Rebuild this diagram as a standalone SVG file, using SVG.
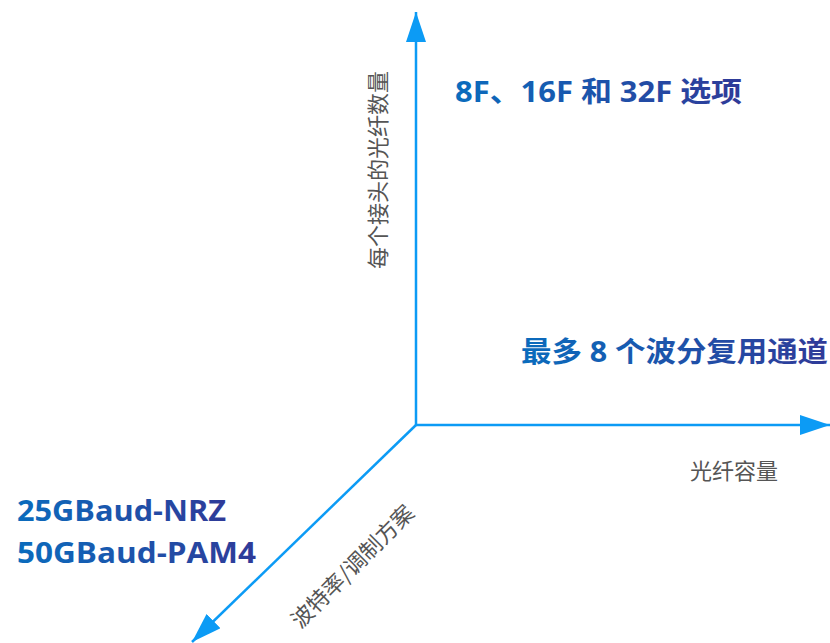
<svg xmlns="http://www.w3.org/2000/svg" width="830" height="643" viewBox="0 0 830 643">
<defs>
<linearGradient id="tg" x1="0" y1="0" x2="1" y2="0">
<stop offset="0" stop-color="#0a6cbd"/>
<stop offset="1" stop-color="#2f3a98"/>
</linearGradient>
<marker id="ah" viewBox="0 0 30 20" refX="30" refY="10" markerWidth="30" markerHeight="20" markerUnits="userSpaceOnUse" orient="auto">
<path d="M0,0 L30,10 L0,20 Z" fill="#0c9bf5"/>
</marker>
<style>
.ax{stroke:#0c9bf5;stroke-width:2.5;fill:none}
.big{font-family:"Open Sans","Noto Sans CJK SC",sans-serif;font-weight:bold;font-size:28px;fill:url(#tg)}
.lab{font-family:"Noto Sans CJK SC","Noto Sans",sans-serif;font-size:22px;fill:#555}
</style>
</defs>
<g id="connectors">
<line class="ax" x1="416" y1="425" x2="416" y2="12" marker-end="url(#ah)"/>
<line class="ax" x1="416" y1="425" x2="830" y2="425" marker-end="url(#ah)"/>
<line class="ax" x1="416" y1="425" x2="192" y2="642" marker-end="url(#ah)"/>
</g>
<g id="fiber-options"><text class="big" x="455" y="102" textLength="287" lengthAdjust="spacingAndGlyphs">8F、16F 和 32F 选项</text></g>
<g id="wdm"><text class="big" x="521" y="362" textLength="307" lengthAdjust="spacingAndGlyphs">最多 8 个波分复用通道</text></g>
<g id="baud"><text class="big" x="17" y="521" textLength="209" lengthAdjust="spacingAndGlyphs">25GBaud-NRZ</text><text class="big" x="17" y="563" textLength="239" lengthAdjust="spacingAndGlyphs">50GBaud-PAM4</text></g>
<g id="y-label"><text class="lab" transform="translate(386,170) rotate(-90)" text-anchor="middle">每个接头的光纤数量</text></g>
<g id="x-label"><text class="lab" x="690" y="479">光纤容量</text></g>
<g id="z-label"><text class="lab" transform="translate(358,572) rotate(-45)" text-anchor="middle">波特率/调制方案</text></g>
</svg>
